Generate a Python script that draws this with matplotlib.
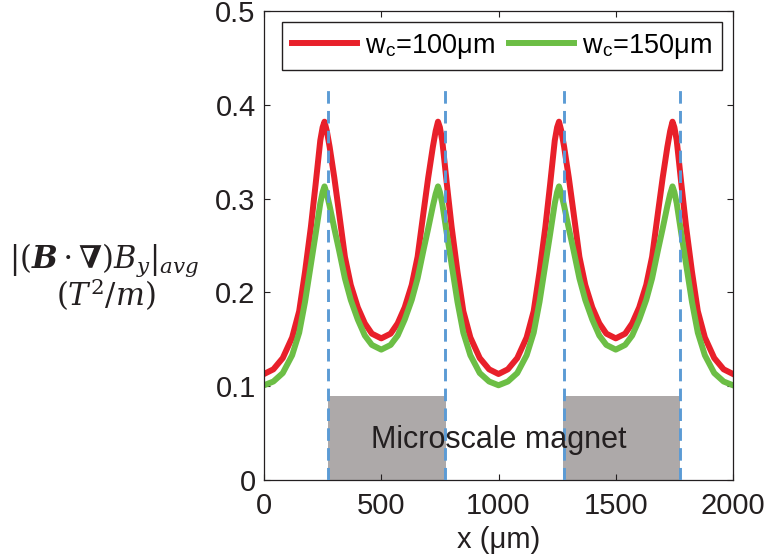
import matplotlib
matplotlib.use('Agg')
import matplotlib.pyplot as plt

plt.rcParams['font.family'] = ['Liberation Sans', 'DejaVu Sans']
plt.rcParams['mathtext.fontset'] = 'stix'

# ---- data ----
x_um = [0, 40, 80, 120, 150, 175, 200, 220, 240, 250, 258, 268, 280, 300, 320, 345, 370, 400, 430, 460, 500,
        540, 570, 600, 630, 655, 680, 700, 720, 732, 742, 750, 760, 780, 800, 825, 850, 880, 920, 960, 1000,
        1040, 1080, 1120, 1150, 1175, 1200, 1220, 1240, 1250, 1258, 1268, 1280, 1300, 1320, 1345, 1370, 1400, 1430, 1460, 1500,
        1540, 1570, 1600, 1630, 1655, 1680, 1700, 1720, 1732, 1742, 1750, 1760, 1780, 1800, 1825, 1850, 1880, 1920, 1960, 2000]

red_wc100 = [0.113, 0.118, 0.130, 0.152, 0.180, 0.222, 0.270, 0.315, 0.362, 0.376, 0.382, 0.372, 0.355, 0.322, 0.285, 0.238, 0.208, 0.184, 0.167, 0.156, 0.151,
             0.156, 0.167, 0.184, 0.208, 0.238, 0.285, 0.322, 0.355, 0.372, 0.382, 0.376, 0.362, 0.315, 0.270, 0.222, 0.180, 0.152, 0.130, 0.118, 0.113,
             0.118, 0.130, 0.152, 0.180, 0.222, 0.270, 0.315, 0.362, 0.376, 0.382, 0.372, 0.355, 0.322, 0.285, 0.238, 0.208, 0.184, 0.167, 0.156, 0.151,
             0.156, 0.167, 0.184, 0.208, 0.238, 0.285, 0.322, 0.355, 0.372, 0.382, 0.376, 0.362, 0.315, 0.270, 0.222, 0.180, 0.152, 0.130, 0.118, 0.113]

green_wc150 = [0.101, 0.105, 0.114, 0.133, 0.157, 0.190, 0.230, 0.262, 0.295, 0.307, 0.313, 0.305, 0.292, 0.268, 0.245, 0.215, 0.192, 0.171, 0.154, 0.144, 0.139,
               0.144, 0.154, 0.171, 0.192, 0.215, 0.245, 0.268, 0.292, 0.305, 0.313, 0.307, 0.295, 0.262, 0.230, 0.190, 0.157, 0.133, 0.114, 0.105, 0.101,
               0.105, 0.114, 0.133, 0.157, 0.190, 0.230, 0.262, 0.295, 0.307, 0.313, 0.305, 0.292, 0.268, 0.245, 0.215, 0.192, 0.171, 0.154, 0.144, 0.139,
               0.144, 0.154, 0.171, 0.192, 0.215, 0.245, 0.268, 0.292, 0.305, 0.313, 0.307, 0.295, 0.262, 0.230, 0.190, 0.157, 0.133, 0.114, 0.105, 0.101]

series_labels = ['w$_{\\mathregular{c}}$=100μm', 'w$_{\\mathregular{c}}$=150μm']

magnet_left = [274, 1276]
magnet_right = [774, 1776]
magnet_height = 0.09
edge_lines = [274, 771, 1278, 1773]
edge_top = 0.42

xticks = [0, 500, 1000, 1500, 2000]
xtick_labels = ['0', '500', '1000', '1500', '2000']
yticks = [0, 0.1, 0.2, 0.3, 0.4, 0.5]
ytick_labels = ['0', '0.1', '0.2', '0.3', '0.4', '0.5']

# ---- figure ----
fig = plt.figure(figsize=(7.66, 5.54), dpi=100)
ax = fig.add_axes([264 / 766, 1 - 480 / 554, 469 / 766, 469 / 554])

widths = [r - l for l, r in zip(magnet_left, magnet_right)]
ax.bar(magnet_left, [magnet_height] * len(magnet_left), width=widths, align='edge',
       color='#ADA9A9', edgecolor='none', zorder=1)
ax.text(1000, 0.043, 'Microscale magnet', ha='center', va='center', fontsize=22,
        color='#231F20', zorder=5)

ax.plot(x_um, red_wc100, color='#E8202A', lw=4.3, label=series_labels[0], zorder=2,
        solid_joinstyle='round')
ax.plot(x_um, green_wc150, color='#6CBE45', lw=4.3, label=series_labels[1], zorder=2,
        solid_joinstyle='round')

ax.vlines(edge_lines, 0, edge_top, colors='#5B9BD5', linestyles=(0, (4.3, 2.5)), lw=2.1, zorder=3)

ax.set_xlim(0, 2000)
ax.set_ylim(0, 0.5)
ax.set_xticks(xticks)
ax.set_xticklabels(xtick_labels)
ax.set_yticks(yticks)
ax.set_yticklabels(ytick_labels)
ax.tick_params(direction='in', top=True, right=True, length=4, width=0.8,
               labelsize=21, colors='#231F20')
ax.tick_params(axis='x', pad=9)
ax.tick_params(axis='y', pad=6)
for s in ax.spines.values():
    s.set_linewidth(0.9)
    s.set_color('#231F20')

ax.set_xlabel('x (μm)', fontsize=21, color='#231F20', labelpad=4)

leg = ax.legend(loc='upper center', bbox_to_anchor=(0.5075, 0.9765), ncol=2, fontsize=19.5,
                frameon=True, fancybox=False, edgecolor='#231F20', framealpha=1,
                borderaxespad=0, handlelength=2.4, columnspacing=0.5, handletextpad=0.3,
                borderpad=0.35)
leg.get_frame().set_linewidth(1.0)
leg.set_zorder(10)

fig.text(104 / 766, 1 - 268 / 554, r'$|(\boldsymbol{B}\cdot\boldsymbol{\nabla})B_y|_{avg}$',
         ha='center', va='baseline', fontsize=22, color='#231F20', math_fontfamily='dejavuserif')
fig.text(106 / 766, 1 - 306 / 554, r'$(T^2/m)$', ha='center', va='baseline',
         fontsize=22, color='#231F20', math_fontfamily='dejavuserif')

fig.savefig('out.png', dpi=100)
